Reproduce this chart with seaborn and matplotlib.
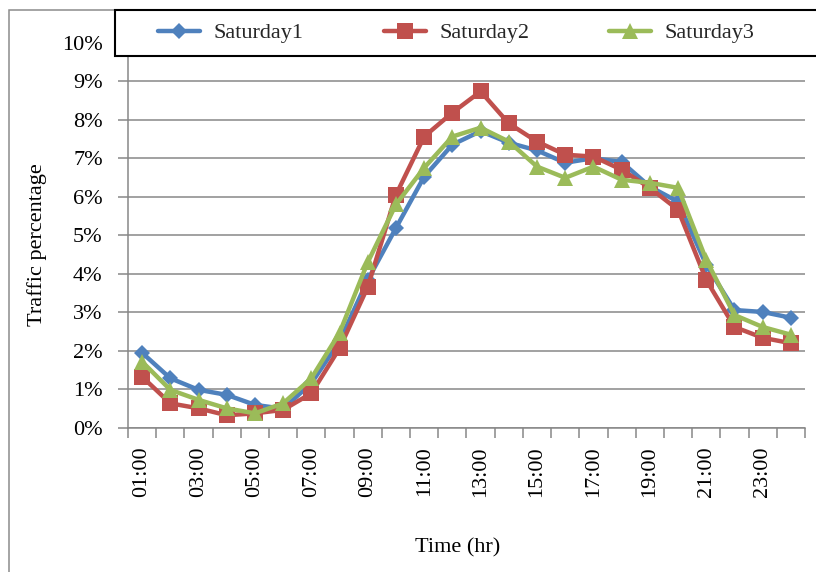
import matplotlib
matplotlib.use('Agg')
import matplotlib.pyplot as plt
import seaborn as sns
import pandas as pd
import numpy as np
from matplotlib.ticker import PercentFormatter
from matplotlib.patches import Rectangle

hours = ["%02d:00" % h for h in range(1, 25)]
saturday1 = [1.95, 1.29, 0.99, 0.86, 0.60, 0.50, 1.16, 2.25, 3.84, 5.19, 6.52, 7.35,
             7.70, 7.40, 7.20, 6.88, 7.00, 6.90, 6.26, 5.87, 4.23, 3.06, 3.01, 2.86]
saturday2 = [1.33, 0.64, 0.51, 0.33, 0.38, 0.47, 0.90, 2.07, 3.66, 6.05, 7.56, 8.18,
             8.73, 7.90, 7.43, 7.09, 7.04, 6.70, 6.23, 5.66, 3.84, 2.62, 2.34, 2.20]
saturday3 = [1.72, 0.99, 0.73, 0.51, 0.38, 0.64, 1.29, 2.47, 4.30, 5.80, 6.75, 7.56,
             7.79, 7.43, 6.78, 6.49, 6.78, 6.44, 6.36, 6.23, 4.36, 2.93, 2.62, 2.42]
series_names = ["Saturday1", "Saturday2", "Saturday3"]
colors = ["#4F81BD", "#C0504D", "#9BBB59"]
marker_sizes = {"Saturday1": 8, "Saturday2": 11, "Saturday3": 11.5}

rows = []
for name, vals in zip(series_names, [saturday1, saturday2, saturday3]):
    for i, (h, v) in enumerate(zip(hours, vals)):
        rows.append({"pos": i + 1, "hour": h, "value": v, "series": name})
df = pd.DataFrame(rows)

sns.set_theme(style="white")
plt.rcParams['font.family'] = ['Liberation Serif', 'DejaVu Serif']

W, H = 816, 572
fig = plt.figure(figsize=(W / 100, H / 100), dpi=100)
ax = fig.add_axes([128 / W, 1 - 428 / H, (805 - 128) / W, (428 - 42.5) / H])

sns.lineplot(data=df, x="pos", y="value", hue="series", style="series",
             markers=["D", "s", "^"], dashes=False, palette=colors,
             linewidth=3.2, markersize=10, markeredgewidth=0, ax=ax)

for line, name in zip(ax.lines, series_names):
    line.set_markersize(marker_sizes[name])

gray = "#878787"
ax.set_xlim(0.5, 24.5)
ax.set_ylim(0, 10)
ax.set_yticks(range(0, 11))
ax.yaxis.set_major_formatter(PercentFormatter(decimals=0))
ax.set_axisbelow(True)
ax.grid(axis="y", color=gray, linewidth=1.1)
ax.grid(axis="x", visible=False)

odd = list(range(1, 25, 2))
ax.set_xticks(odd)
ax.set_xticklabels([hours[i - 1] for i in odd], rotation=90)
ax.set_xticks(np.arange(0.5, 25, 1), minor=True)
ax.tick_params(axis="x", which="major", length=0, pad=13, labelsize=16, colors="black")
ax.tick_params(axis="x", which="minor", length=7.2, width=1.1, color=gray, bottom=True)
ax.tick_params(axis="y", length=7.2, width=1.1, color=gray, pad=11, labelsize=16,
               labelcolor="black", left=True)

for s in ["top", "right"]:
    ax.spines[s].set_visible(False)
for s in ["left", "bottom"]:
    ax.spines[s].set_color(gray)
    ax.spines[s].set_linewidth(1.1)

ax.set_ylabel("Traffic percentage", fontsize=16, color="black")
ax.yaxis.set_label_coords(-0.119, 0.475)
ax.set_xlabel("Time (hr)", fontsize=16, color="black")
ax.xaxis.set_label_coords(0.487, -0.285)

# outer chart border
fig.add_artist(Rectangle((9 / W, -0.1), 1.2, 1 - 10 / H + 0.1, transform=fig.transFigure,
                         fill=False, edgecolor="#8c8c8c", linewidth=1.1, zorder=0))
# legend box
fig.add_artist(Rectangle((115 / W, 1 - 56 / H), 1.0, 46 / H, transform=fig.transFigure,
                         facecolor="white", edgecolor="black", linewidth=1.5, zorder=4))

handles, labels = ax.get_legend_handles_labels()
if ax.get_legend() is not None:
    ax.get_legend().remove()
for h, lab in zip(handles, labels):
    if lab in marker_sizes:
        h.set_markersize(marker_sizes[lab])
fig.legend(handles, labels, loc="center left", bbox_to_anchor=(158 / W, 1 - 33 / H),
           ncol=3, frameon=False, fontsize=16, handlelength=1.9, handletextpad=0.6,
           columnspacing=3.6, borderaxespad=0, borderpad=0)

fig.savefig("out.png", dpi=100)
